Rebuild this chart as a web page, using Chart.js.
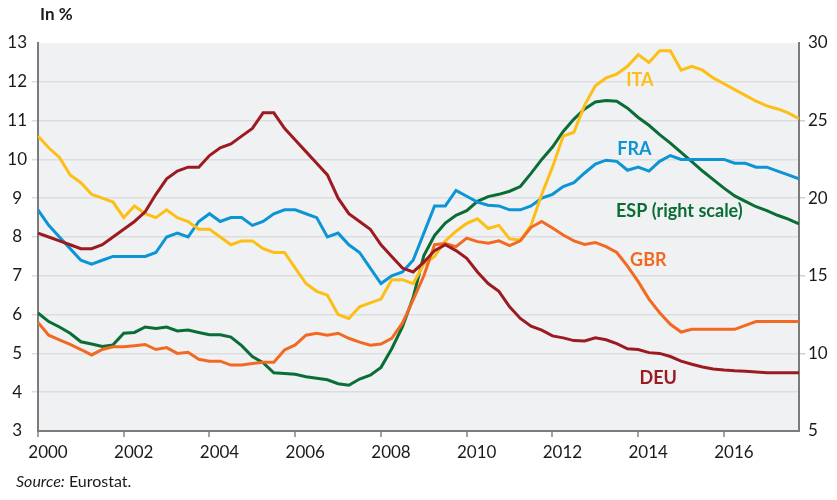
<!DOCTYPE html>
<html>
<head>
<meta charset="utf-8">
<script src="https://cdn.jsdelivr.net/npm/chart.js@4"></script>
<style>
  html, body { margin: 0; padding: 0; background: #ffffff; }
  #wrap { position: relative; width: 837px; height: 500px; overflow: hidden; font-family: Lato, "Open Sans", sans-serif; }
  #c { position: absolute; left: 0; top: 0; }
  #unit { position: absolute; left: 40px; top: 3px; font-weight: bold; font-size: 17px; color: #1a1a1a; }
  #source { position: absolute; left: 16px; top: 471px; font-size: 16px; color: #1a1a1a; }
</style>
</head>
<body>
<div id="wrap">
  <canvas id="c" width="837" height="500"></canvas>
  <div id="unit">In %</div>
  <div id="source"><i>Source:</i> Eurostat.</div>
</div>
<script>
// Quarterly observations, 2000Q1 .. 2017Q4
const startYear = 2000;
const quarterCount = 72;
const quarters = [];
for (let i = 0; i < quarterCount; i++) {
  quarters.push((startYear + Math.floor(i / 4)) + 'Q' + (i % 4 + 1));
}
const quarterToYear = q => parseInt(q.slice(0, 4), 10) + (parseInt(q.slice(5), 10) - 1) / 4;

const xTickYears = [2000, 2002, 2004, 2006, 2008, 2010, 2012, 2014, 2016];
const leftTicks = [3, 4, 5, 6, 7, 8, 9, 10, 11, 12, 13];
const rightTicks = [5, 10, 15, 20, 25, 30];

const DEU = [8.1,8.0,7.9,7.8,7.7,7.7,7.8,8.0,8.2,8.4, 8.65,9.1,9.5,9.7,9.8,9.8,10.1,10.3,10.4,10.6,
  10.8,11.2,11.2,10.8,10.5,10.2,9.9,9.6,9.0,8.6, 8.4,8.2,7.8,7.5,7.2,7.1,7.35,7.65,7.8,7.65,
  7.45,7.1,6.8,6.6,6.2,5.9,5.7,5.6,5.45,5.4, 5.33,5.32,5.4,5.35,5.25,5.12,5.1,5.02,5.0,4.92,
  4.8,4.72,4.65,4.6,4.57,4.55,4.54,4.52,4.5,4.5, 4.5,4.5];
const FRA = [8.7,8.3,8.0,7.7,7.4,7.3,7.4,7.5,7.5,7.5, 7.5,7.6,8.0,8.1,8.0,8.4,8.6,8.4,8.5,8.5,
  8.3,8.4,8.6,8.7,8.7,8.6,8.5,8.0,8.1,7.8, 7.6,7.2,6.8,7.0,7.1,7.4,8.1,8.8,8.8,9.2,
  9.05,8.9,8.82,8.8,8.7,8.7,8.8,9.0,9.1,9.3, 9.4,9.65,9.88,9.98,9.95,9.72,9.8,9.7,9.95,10.1,
  10.0,10.0,10.0,10.0,10.0,9.9,9.9,9.8,9.8,9.7, 9.6,9.5];
const ITA = [10.6,10.3,10.05,9.6,9.4,9.1,9.0,8.9,8.5,8.8, 8.6,8.5,8.7,8.5,8.4,8.2,8.2,8.0,7.8,7.9,
  7.9,7.7,7.6,7.6,7.2,6.8,6.6,6.5,6.0,5.9, 6.2,6.3,6.4,6.9,6.9,6.8,7.3,7.5,7.9,8.15,
  8.35,8.47,8.22,8.3,7.95,7.92,8.3,9.1,9.8,10.6, 10.7,11.4,11.9,12.1,12.2,12.4,12.7,12.5,12.8,12.8,
  12.3,12.4,12.3,12.1,11.95,11.8,11.65,11.5,11.38,11.3, 11.2,11.05];
const GBR = [5.8,5.47,5.35,5.23,5.1,4.96,5.1,5.17,5.17,5.2, 5.23,5.1,5.15,5.0,5.03,4.85,4.8,4.8,4.7,4.7,
  4.74,4.77,4.77,5.09,5.22,5.47,5.52,5.47,5.52,5.39, 5.29,5.21,5.24,5.39,5.78,6.38,7.0,7.8,7.83,7.75,
  7.97,7.88,7.84,7.9,7.78,7.9,8.25,8.4,8.23,8.05, 7.9,7.81,7.86,7.75,7.6,7.25,6.85,6.4,6.05,5.75,
  5.55,5.62,5.62,5.62,5.62,5.62,5.72,5.82,5.82,5.82, 5.82,5.82];
const ESP = [12.6,12.05,11.7,11.3,10.75,10.6,10.45,10.55,11.3,11.35, 11.7,11.6,11.7,11.45,11.5,11.35,11.2,11.2,11.05,10.5,
  9.8,9.4,8.75,8.7,8.65,8.5,8.4,8.3,8.05,7.95, 8.35,8.6,9.1,10.3,11.7,13.6,16.3,17.6,18.4,18.9,
  19.2,19.8,20.1,20.25,20.45,20.75,21.6,22.5,23.3,24.3, 25.1,25.75,26.2,26.3,26.25,25.8,25.2,24.7,24.1,23.55,
  22.95,22.35,21.75,21.2,20.65,20.15,19.8,19.45,19.2,18.9, 18.65,18.35];

const seriesNames = ['DEU', 'GBR', 'ITA', 'FRA', 'ESP'];
const seriesLabels = ['DEU', 'GBR', 'ITA', 'FRA', 'ESP (right scale)'];
const colors = { DEU: '#9b1b20', GBR: '#f26a22', ITA: '#fdbf15', FRA: '#0c95d5', ESP: '#0a6d35' };

// Label anchors (year, left-scale value) for the in-chart series names
const labelAnchors = {
  ITA: [2013.72, 12.05], FRA: [2013.51, 10.27], ESP: [2013.48, 8.67],
  GBR: [2013.81, 7.41], DEU: [2014.03, 4.37]
};

const seriesData = { DEU, GBR, ITA, FRA, ESP };
const toPoints = arr => arr.map((v, i) => ({ x: quarterToYear(quarters[i]), y: v }));

const datasets = seriesNames.map(n => ({
  label: n,
  data: toPoints(seriesData[n]),
  borderColor: colors[n],
  backgroundColor: colors[n],
  borderWidth: 3,
  pointRadius: 0,
  tension: 0,
  fill: false,
  yAxisID: n === 'ESP' ? 'y1' : 'y'
}));

const bgPlugin = {
  id: 'bg',
  beforeDraw(chart) {
    const { ctx, chartArea: a } = chart;
    ctx.save();
    ctx.fillStyle = '#f0f1f3';
    ctx.fillRect(a.left, a.top, a.right - a.left, a.bottom - a.top);
    ctx.restore();
  }
};

const labelPlugin = {
  id: 'seriesLabels',
  afterDatasetsDraw(chart) {
    const { ctx } = chart;
    const xs = chart.scales.x, ys = chart.scales.y;
    ctx.save();
    ctx.font = 'bold 18px Lato, "Open Sans", sans-serif';
    ctx.textAlign = 'left';
    ctx.textBaseline = 'middle';
    seriesNames.forEach((n, k) => {
      const [yr, v] = labelAnchors[n];
      ctx.fillStyle = colors[n];
      ctx.fillText(seriesLabels[k], xs.getPixelForValue(yr), ys.getPixelForValue(v));
    });
    ctx.restore();
  }
};

const tickFont = { family: 'Lato, "Open Sans", sans-serif', size: 17 };

new Chart(document.getElementById('c'), {
  type: 'line',
  data: { datasets },
  plugins: [bgPlugin, labelPlugin],
  options: {
    responsive: false,
    animation: false,
    layout: { padding: { top: 43, bottom: 40, left: 0, right: 0 } },
    plugins: { legend: { display: false }, tooltip: { enabled: false } },
    scales: {
      x: {
        type: 'linear',
        min: 2000,
        max: 2017.75,
        afterFit: s => { s.height = 29; },
        afterBuildTicks: s => { s.ticks = xTickYears.map(v => ({ value: v })); },
        ticks: {
          includeBounds: false,
          autoSkip: false,
          maxRotation: 0,
          labelOffset: 10,
          padding: 5,
          color: '#1a1a1a',
          font: tickFont,
          callback: v => String(v)
        },
        grid: { drawOnChartArea: false, drawTicks: true, tickLength: 6, color: '#a3a3a3', lineWidth: 2 },
        border: { display: true, color: '#7b7b7b', width: 2 }
      },
      y: {
        position: 'left',
        min: 3,
        max: 13,
        afterFit: s => { s.width = 38; },
        afterBuildTicks: s => { s.ticks = leftTicks.map(v => ({ value: v })); },
        ticks: {
          color: '#1a1a1a',
          font: tickFont,
          padding: 5,
          crossAlign: 'center',
          callback: v => String(v)
        },
        grid: {
          drawTicks: true,
          tickLength: 6,
          lineWidth: 1.5,
          color: c => (c.tick && (c.tick.value === 13 || c.tick.value === 3)) ? 'rgba(0,0,0,0)' : '#dcdde0'
        },
        border: { display: true, color: '#7b7b7b', width: 2 }
      },
      y1: {
        position: 'right',
        min: 5,
        max: 30,
        afterFit: s => { s.width = 38; },
        afterBuildTicks: s => { s.ticks = rightTicks.map(v => ({ value: v })); },
        ticks: {
          color: '#1a1a1a',
          font: tickFont,
          padding: 3,
          callback: v => String(v)
        },
        grid: {
          drawOnChartArea: false,
          drawTicks: true,
          tickLength: 6,
          lineWidth: 1.5,
          color: c => (c.tick && (c.tick.value === 30 || c.tick.value === 5)) ? 'rgba(0,0,0,0)' : '#cfd0d3'
        },
        border: { display: true, color: '#7b7b7b', width: 2 }
      }
    }
  }
});
</script>
</body>
</html>
